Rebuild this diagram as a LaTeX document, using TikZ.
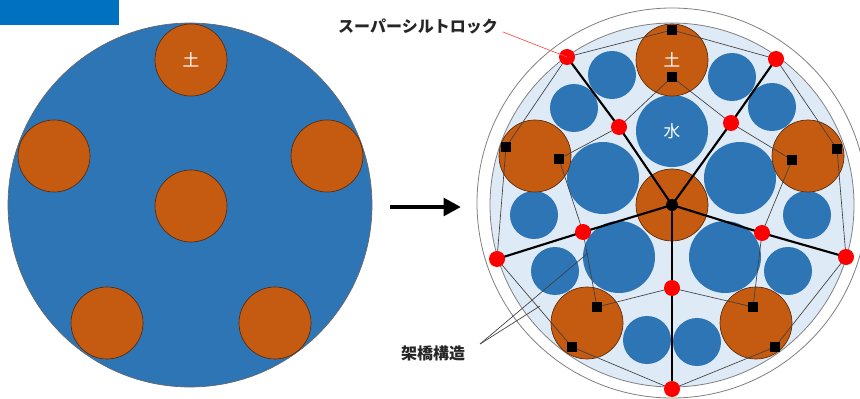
\documentclass[tikz,border=0pt]{standalone}
\usepackage{fontspec}
\newfontfamily\jp{Noto Sans CJK JP}
\usetikzlibrary{arrows.meta}
\definecolor{hdr}{HTML}{0070C0}
\definecolor{water}{HTML}{2E75B6}
\definecolor{soil}{HTML}{C55A11}
\definecolor{soildark}{HTML}{5A2A0A}
\definecolor{pale}{HTML}{DEEBF7}
\definecolor{rim}{HTML}{808080}
\begin{document}
\begin{tikzpicture}[x=0.75pt,y=-0.75pt,
  soilc/.style={circle,fill=soil,draw=soildark,line width=0.5pt,inner sep=0pt,minimum size=54pt},
  waterbig/.style={circle,fill=water,inner sep=0pt,minimum size=54pt},
  watersm/.style={circle,fill=water,inner sep=0pt,minimum size=36pt},
  reddot/.style={circle,fill=red,inner sep=0pt,minimum size=12pt},
  sq/.style={rectangle,fill=black,inner sep=0pt,minimum size=7.2pt},
  thinl/.style={draw=black!75,line width=0.5pt},
  thickl/.style={draw=black,line width=1.6pt},
  wtext/.style={text=white,font=\jp\fontsize{12.5}{14}\selectfont},
  lbl/.style={text=black!85,font=\jp\bfseries\fontsize{12}{14}\selectfont}]
\useasboundingbox (0,0) rectangle (860,399);
\clip (0,0) rectangle (860,399);
\fill[hdr] (0,0) rectangle (119,25);
% left diagram
\node[circle,fill=water,draw=black!60,line width=0.5pt,inner sep=0pt,minimum size=273pt] (L) at (190,205) {};
\node[soilc] (Lt) at (191,60) {};
\node[wtext] (Ltt) at (191,60) {土};
\node[soilc] (Ll) at (54,156) {};
\node[soilc] (Lr) at (327,156) {};
\node[soilc] (Lc) at (191,206) {};
\node[soilc] (Lbl) at (107,323) {};
\node[soilc] (Lbr) at (275,323) {};
% arrow
\coordinate (A1) at (390,207);
\coordinate (A2) at (461,207);
\draw[line width=3.6pt,-{Triangle[length=13pt,width=13pt]}] (A1) -- (A2);
% right diagram
\node[circle,fill=white,draw=rim,line width=0.6pt,inner sep=0pt,minimum size=292.5pt] (Ro) at (672,203) {};
\node[circle,fill=pale,draw=rim,line width=0.6pt,inner sep=0pt,minimum size=273pt] (Ri) at (672,205) {};
% water circles
\node[waterbig] (W0) at (672,131) {};
\node[wtext] (W0t) at (672,131) {水};
\node[waterbig] (W1) at (603,178) {};
\node[waterbig] (W2) at (740,178) {};
\node[waterbig] (W3) at (619,257) {};
\node[waterbig] (W4) at (725,257) {};
\node[watersm] (w1) at (612,75) {};
\node[watersm] (w2) at (732,77) {};
\node[watersm] (w3) at (574,108) {};
\node[watersm] (w4) at (772,107) {};
\node[watersm] (w5) at (534,215) {};
\node[watersm] (w6) at (807,215) {};
\node[watersm] (w7) at (555,271) {};
\node[watersm] (w8) at (788,271) {};
\node[watersm] (w9) at (647,340) {};
\node[watersm] (w10) at (697,342) {};
% soil circles
\node[soilc] (St) at (672,60) {};
\node[wtext] (Stt) at (672,60) {土};
\node[soilc] (Sl) at (535,156) {};
\node[soilc] (Sr) at (808,156) {};
\node[soilc] (Sc) at (672,205) {};
\node[soilc] (Sbl) at (587,323) {};
\node[soilc] (Sbr) at (756,323) {};
% key points
\coordinate (C) at (672,205);
\coordinate (R1) at (567,57);
\coordinate (R2) at (776,59);
\coordinate (R3) at (846,257);
\coordinate (R4) at (672,389);
\coordinate (R5) at (497,259);
\coordinate (I1) at (619,127);
\coordinate (I2) at (731,123);
\coordinate (I3) at (762,233);
\coordinate (I4) at (672,288);
\coordinate (I5) at (583,232);
\coordinate (So1) at (672,30);
\coordinate (Si1) at (672,77);
\coordinate (Si2) at (792,160);
\coordinate (So2) at (837,149);
\coordinate (Si3) at (753,307);
\coordinate (So3) at (775,347);
\coordinate (Si4) at (597,307);
\coordinate (So4) at (572,347);
\coordinate (Si5) at (559,159);
\coordinate (So5) at (506,147);
% thin polygons
\draw[thinl] (I1) -- (Si1) -- (I2) -- (Si2) -- (I3) -- (Si3) -- (I4) -- (Si4) -- (I5) -- (Si5) -- cycle;
\draw[thinl] (R1) -- (So1) -- (R2) -- (So2) -- (R3) -- (So3) -- (R4) -- (So4) -- (R5) -- (So5) -- cycle;
% thick spokes
\draw[thickl] (C) -- (I1) -- (R1);
\draw[thickl] (C) -- (I2) -- (R2);
\draw[thickl] (C) -- (I3) -- (R3);
\draw[thickl] (C) -- (I4) -- (R4);
\draw[thickl] (C) -- (I5) -- (R5);
% squares
\foreach \p in {So1,Si1,Si2,So2,Si3,So3,Si4,So4,Si5,So5} {\node[sq] (n\p) at (\p) {};}
% red dots
\foreach \p in {R1,R2,R3,R4,R5,I1,I2,I3,I4,I5} {\node[reddot] (n\p) at (\p) {};}
\node[circle,fill=black,inner sep=0pt,minimum size=9pt] (nC) at (C) {};
% labels
\node[lbl] (T1) at (418,26) {スーパーシルトロック};
\coordinate (T1e) at (503,32);
\draw[red!70,line width=0.5pt] (T1e) -- (nR1.center);
\node[lbl] (T2) at (433,353) {架橋構造};
\coordinate (T2e) at (480,344);
\coordinate (L1) at (588,253);
\coordinate (L2) at (540,306);
\draw[thinl] (T2e) -- (L1);
\draw[thinl] (T2e) -- (L2);
\end{tikzpicture}
\end{document}
